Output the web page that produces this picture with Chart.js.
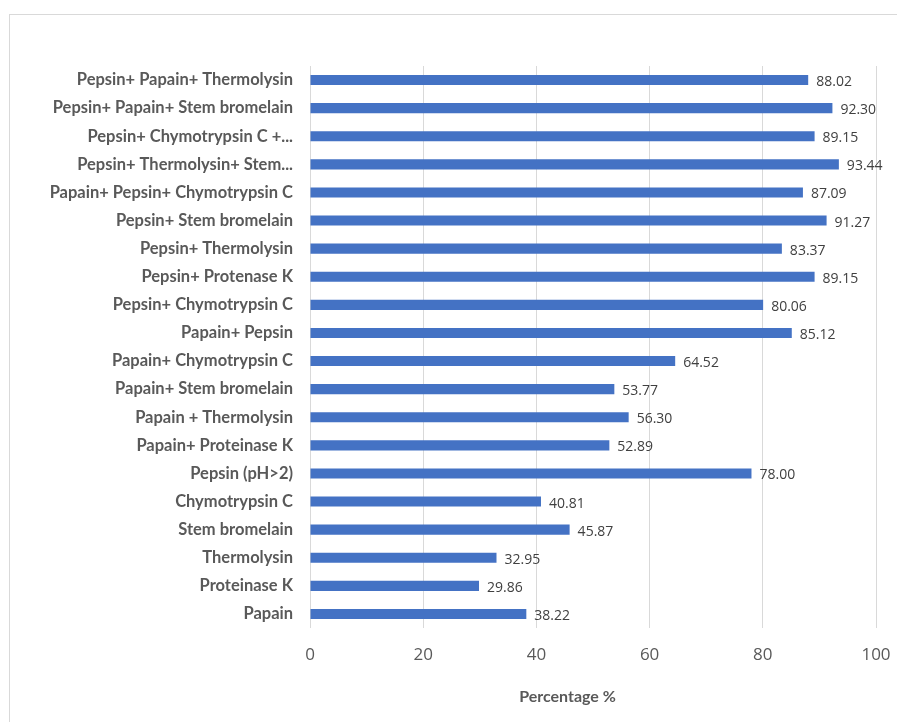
<!DOCTYPE html>
<html>
<head>
<meta charset="utf-8">
<script src="https://cdn.jsdelivr.net/npm/chart.js@4.4.1/dist/chart.umd.min.js"></script>
<style>
  html, body { margin: 0; padding: 0; background: #fff; }
  #wrap { position: relative; width: 897px; height: 722px; overflow: hidden; }
  #frame { position: absolute; left: 9px; top: 14px; width: 900px; height: 720px; border: 1px solid #d9d9d9; box-sizing: border-box; }
  canvas { position: absolute; left: 0; top: 0; }
</style>
</head>
<body>
<div id="wrap">
  <div id="frame"></div>
  <canvas id="myChart" width="897" height="722"></canvas>
</div>
<script>
//----------------------------- Data -----------------------------------
const categories = [
    'Pepsin+ Papain+ Thermolysin',
    'Pepsin+ Papain+ Stem bromelain',
    'Pepsin+ Chymotrypsin C +...',
    'Pepsin+ Thermolysin+ Stem...',
    'Papain+ Pepsin+ Chymotrypsin C',
    'Pepsin+ Stem bromelain',
    'Pepsin+ Thermolysin',
    'Pepsin+ Protenase K',
    'Pepsin+ Chymotrypsin C',
    'Papain+ Pepsin',
    'Papain+ Chymotrypsin C',
    'Papain+ Stem bromelain',
    'Papain + Thermolysin',
    'Papain+ Proteinase K',
    'Pepsin (pH>2)',
    'Chymotrypsin C',
    'Stem bromelain',
    'Thermolysin',
    'Proteinase K',
    'Papain'
];
const percentages = [88.02, 92.30, 89.15, 93.44, 87.09, 91.27, 83.37, 89.15, 80.06, 85.12,
                     64.52, 53.77, 56.30, 52.89, 78.00, 40.81, 45.87, 32.95, 29.86, 38.22];
const xTicks = [0, 20, 40, 60, 80, 100];
const xTitle = 'Percentage %';

const barColor = '#4472C4';
const gridColor = '#d9d9d9';
const fontColor = '#595959';

// draws the number right of each bar, and the x axis title (sits left of centre in the original)
const valueLabels = {
    id: 'valueLabels',
    afterDatasetsDraw(chart) {
        const ctx = chart.ctx;
        const meta = chart.getDatasetMeta(0);
        ctx.save();
        ctx.font = '14px "Open Sans", sans-serif';
        ctx.fillStyle = '#404040';
        ctx.textAlign = 'left';
        ctx.textBaseline = 'middle';
        meta.data.forEach((bar, i) => {
            ctx.fillText(percentages[i].toFixed(2), bar.x + 8, bar.y + 2);
        });
        ctx.font = 'bold 16px Lato, sans-serif';
        ctx.fillStyle = fontColor;
        ctx.textAlign = 'center';
        ctx.fillText(xTitle, chart.scales.x.getPixelForValue(45.5), 697);
        ctx.restore();
    }
};

const ctx = document.getElementById('myChart');
new Chart(ctx, {
    type: 'bar',
    data: {
        labels: categories,
        datasets: [{
            data: percentages,
            backgroundColor: barColor,
            borderWidth: 0,
            categoryPercentage: 1,
            barPercentage: 0.36
        }]
    },
    options: {
        indexAxis: 'y',
        responsive: false,
        animation: false,
        layout: { padding: { top: 66, right: 21, left: 0, bottom: 0 } },
        plugins: {
            legend: { display: false },
            tooltip: { enabled: false }
        },
        scales: {
            x: {
                min: 0,
                max: 100,
                afterBuildTicks(scale) {
                    scale.ticks = xTicks.map(v => ({ value: v }));
                },
                afterFit(scale) {
                    scale.height = 94;
                    scale.paddingRight = 0;
                    scale.paddingLeft = 0;
                },
                grid: { color: gridColor, lineWidth: 1, drawTicks: false },
                border: { display: false },
                ticks: {
                    color: fontColor,
                    padding: 17,
                    font: { family: '"Open Sans", sans-serif', size: 17 }
                }
            },
            y: {
                afterFit(scale) { scale.width = 310; },
                grid: { display: false, drawTicks: false },
                border: { display: false },
                ticks: {
                    color: fontColor,
                    padding: 17,
                    autoSkip: false,
                    font: { family: 'Lato, sans-serif', size: 16.5, weight: 'bold' }
                }
            }
        }
    },
    plugins: [valueLabels]
});
</script>
</body>
</html>
